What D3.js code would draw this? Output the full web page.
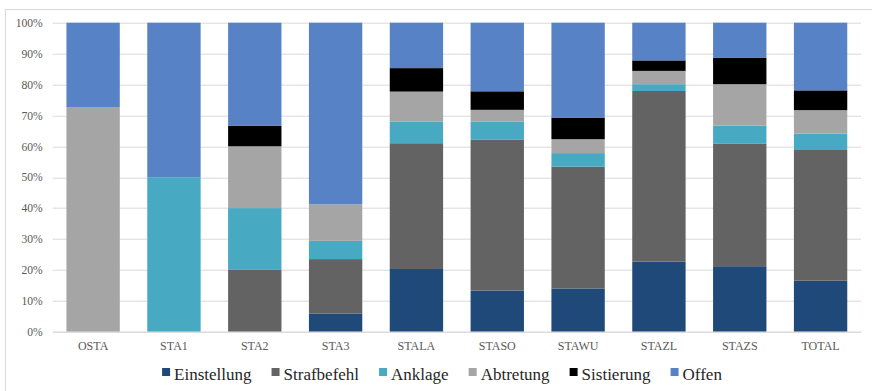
<!DOCTYPE html>
<html>
<head>
<meta charset="utf-8">
<script src="https://cdn.jsdelivr.net/npm/d3@7/dist/d3.min.js"></script>
<style>
  html, body { margin: 0; padding: 0; background: #fff; }
  svg text { font-family: "Liberation Serif", "Times New Roman", Tinos, "DejaVu Serif", "Noto Serif", serif !important; }
</style>
</head>
<body>
<svg id="chart" width="872" height="391"></svg>
<script>
// Verfahrenserledigungen je Staatsanwaltschaft (Anteile in %)
const categories = ["OSTA", "STA1", "STA2", "STA3", "STALA", "STASO", "STAWU", "STAZL", "STAZS", "TOTAL"];
const seriesNames = ["Einstellung", "Strafbefehl", "Anklage", "Abtretung", "Sistierung", "Offen"];
const einstellung = [0, 0, 0, 5.9, 20.3, 13.3, 14.0, 22.7, 21.2, 16.5];
const strafbefehl = [0, 0, 20.0, 17.6, 40.7, 48.8, 39.4, 55.2, 39.6, 42.3];
const anklage     = [0, 50.0, 20.0, 5.9, 7.0, 5.9, 4.4, 2.2, 5.9, 5.3];
const abtretung   = [72.7, 0, 20.0, 11.8, 9.7, 3.8, 4.5, 4.3, 13.4, 7.6];
const sistierung  = [0, 0, 6.7, 0, 7.6, 6.0, 7.0, 3.4, 8.5, 6.4];
const offen       = [27.3, 50.0, 33.3, 58.8, 14.7, 22.2, 30.7, 12.2, 11.4, 21.9];
const yTicks = [0, 10, 20, 30, 40, 50, 60, 70, 80, 90, 100];

const colors = ["#1F4979", "#636363", "#47A9C2", "#A5A5A5", "#000000", "#5882C6"];
const seriesValues = [einstellung, strafbefehl, anklage, abtretung, sistierung, offen];

const rows = categories.map((c, i) => {
  const r = { cat: c };
  seriesNames.forEach((s, k) => { r[s] = seriesValues[k][i]; });
  return r;
});

const svg = d3.select("#chart");
const margin = { left: 52.7, right: 11, top: 22.7, bottom: 59.3 };
const W = 872, H = 391;
const plotW = W - margin.left - margin.right;
const plotH = H - margin.top - margin.bottom;

// chart frame
svg.append("rect")
  .attr("x", 5.5).attr("y", 9.5)
  .attr("width", W + 10).attr("height", H + 10)
  .attr("fill", "#fff").attr("stroke", "#D9D9D9").attr("stroke-width", 1);

const g = svg.append("g").attr("transform", `translate(${margin.left},${margin.top})`);

const x = d3.scaleBand().domain(categories).range([0, plotW]).paddingInner(0.34).paddingOuter(0.17);
const y = d3.scaleLinear().domain([0, 100]).range([plotH, 0]);

// gridlines
g.append("g").selectAll("line").data(yTicks).join("line")
  .attr("x1", 0).attr("x2", plotW)
  .attr("y1", d => Math.round(y(d)) + 0.5).attr("y2", d => Math.round(y(d)) + 0.5)
  .attr("stroke", "#D9D9D9").attr("stroke-width", 1);

// stacked bars
const stack = d3.stack().keys(seriesNames);
const layers = stack(rows);
g.append("g").selectAll("g").data(layers).join("g")
  .attr("fill", (d, i) => colors[i])
  .selectAll("rect").data(d => d).join("rect")
  .attr("x", d => x(d.data.cat))
  .attr("width", x.bandwidth())
  .attr("y", d => y(d[1]))
  .attr("height", d => Math.max(0, y(d[0]) - y(d[1])));

// y axis
const yAxis = d3.axisLeft(y).tickValues(yTicks).tickFormat(d => d + "%").tickSize(0).tickPadding(10);
const ya = g.append("g").call(yAxis);
ya.attr("font-family", null);
ya.select(".domain").remove();
ya.selectAll("text")
  .attr("fill", "#595959")
  .style("font-size", "11.6px");

// x axis
const xAxis = d3.axisBottom(x).tickSize(0).tickPadding(10);
const xa = g.append("g").attr("transform", `translate(0,${plotH})`).call(xAxis);
xa.attr("font-family", null);
xa.select(".domain").attr("stroke", "#D9D9D9");
xa.selectAll("text")
  .attr("fill", "#595959")
  .style("font-size", "12px");

// legend
const legend = svg.append("g");
const items = legend.selectAll("g").data(seriesNames).join("g");
items.append("rect")
  .attr("width", 8).attr("height", 8).attr("y", -7)
  .attr("fill", (d, i) => colors[i]);
items.append("text")
  .attr("x", 12).attr("y", 0)
  .attr("dominant-baseline", "middle")
  .attr("dy", "0.05em")
  .attr("fill", "#262626")
  .style("font-size", "17px")
  .text(d => d);
let offset = 0;
items.each(function () {
  const w = d3.select(this).select("text").node().getComputedTextLength();
  d3.select(this).attr("transform", `translate(${offset},0)`);
  offset += 12 + w + 20;
});
const totalW = offset - 20;
legend.attr("transform", `translate(${442 - totalW / 2},375)`);
</script>
</body>
</html>
